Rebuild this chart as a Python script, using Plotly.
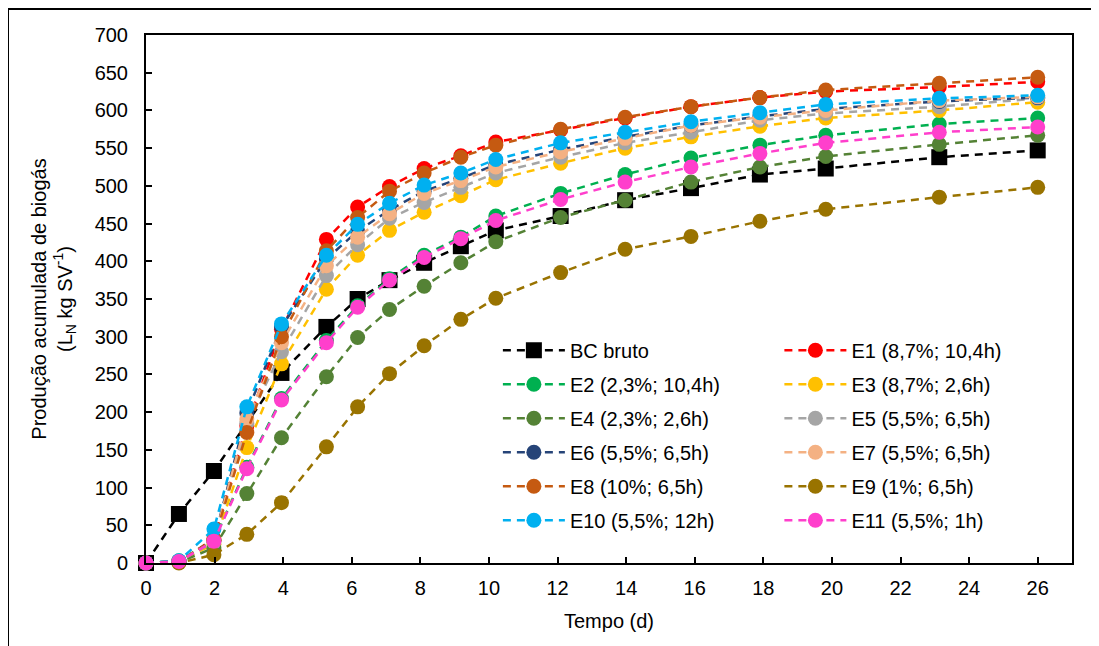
import plotly.graph_objects as go

# Time (days)
tempo = [0, 0.96, 1.98, 2.94, 3.95, 5.26, 6.17, 7.1, 8.11, 9.18, 10.2, 12.09, 13.97, 15.89, 17.9, 19.82, 23.13, 26.0]

bc_bruto = [0, 65, 122, None, 252, 313, 350, 375, 398, 420, 441, 460, 481, 497, 515, 523, 538, 547]
e1 = [0, 2, 32, 182, 310, 429, 472, 499, 523, 540, 558, 574, 590, 605, 617, 625, 631, 638]
e2 = [0, 3, 30, 127, 218, 295, 341, 377, 408, 432, 460, 490, 515, 537, 554, 567, 582, 590]
e3 = [0, 2, 25, 153, 264, 363, 408, 441, 465, 487, 508, 530, 550, 565, 579, 590, 600, 611]
e4 = [0, 1, 20, 92, 166, 247, 299, 336, 367, 398, 426, 458, 481, 505, 525, 539, 555, 567]
e5 = [0, 2, 28, 185, 280, 381, 422, 457, 478, 498, 517, 538, 557, 571, 587, 596, 605, 616]
e6 = [0, 2, 30, 199, 313, 403, 440, 468, 493, 510, 528, 548, 565, 580, 592, 602, 612, 617]
e7 = [0, 2, 30, 191, 292, 394, 432, 463, 490, 507, 525, 545, 563, 580, 591, 600, 613, 618]
e8 = [0, 2, 30, 173, 300, 414, 458, 493, 517, 538, 554, 575, 591, 605, 617, 627, 636, 644]
e9 = [0, 0, 11, 38, 80, 154, 207, 251, 288, 323, 351, 385, 416, 433, 453, 469, 485, 498]
e10 = [0, 3, 45, 207, 317, 408, 449, 477, 501, 517, 535, 557, 571, 585, 597, 608, 616, 620]
e11 = [0, 2, 29, 125, 216, 292, 339, 375, 405, 430, 454, 482, 505, 525, 543, 557, 571, 578]

series = [
    ("BC bruto", bc_bruto, "#000000", "square", "legend"),
    ("E1 (8,7%; 10,4h)", e1, "#FF0000", "circle", "legend2"),
    ("E2 (2,3%; 10,4h)", e2, "#00B050", "circle", "legend"),
    ("E3 (8,7%; 2,6h)", e3, "#FFC000", "circle", "legend2"),
    ("E4 (2,3%; 2,6h)", e4, "#548235", "circle", "legend"),
    ("E5 (5,5%; 6,5h)", e5, "#A5A5A5", "circle", "legend2"),
    ("E6 (5,5%; 6,5h)", e6, "#264478", "circle", "legend"),
    ("E7 (5,5%; 6,5h)", e7, "#F4B183", "circle", "legend2"),
    ("E8 (10%; 6,5h)", e8, "#C55A11", "circle", "legend"),
    ("E9 (1%; 6,5h)", e9, "#997300", "circle", "legend2"),
    ("E10 (5,5%; 12h)", e10, "#00B0F0", "circle", "legend"),
    ("E11 (5,5%; 1h)", e11, "#FF3FCC", "circle", "legend2"),
]

fig = go.Figure()
for i, (name, vals, color, sym, leg) in enumerate(series):
    fig.add_trace(go.Scatter(
        x=tempo, y=vals, name=name, mode="lines+markers",
        connectgaps=True, legend=leg, legendgroup="g%d" % i,
        line=dict(color=color, width=2.5, dash="8px,6px"),
        marker=dict(color=color, symbol=sym, size=16 if sym == "square" else 15,
                    line=dict(width=0)),
        cliponaxis=False,
    ))

font_family = "Liberation Sans, Arial, sans-serif"
legend_common = dict(
    bgcolor="rgba(0,0,0,0)", borderwidth=0, orientation="v",
    font=dict(family=font_family, size=20, color="#000000"),
    tracegroupgap=5, xanchor="left", yanchor="top", itemwidth=62,
)

fig.update_layout(
    width=1099, height=646,
    margin=dict(l=138, r=35, t=27, b=91),
    paper_bgcolor="white", plot_bgcolor="white",
    font=dict(family=font_family, size=20, color="#000000"),
    showlegend=True,
    legend=dict(x=0.380, y=0.44, **legend_common),
    legend2=dict(x=0.684, y=0.44, **legend_common),
    xaxis=dict(
        range=[0, 27], tickmode="array", tickvals=list(range(0, 27, 2)),
        ticks="inside", ticklen=6, tickwidth=1.5, tickcolor="#000000",
        showline=True, linecolor="#000000", linewidth=2, mirror=True,
        showgrid=False, zeroline=False, ticklabelstandoff=6,
        tickfont=dict(size=20),
        title=dict(text="Tempo (d)", font=dict(size=20), standoff=16),
    ),
    yaxis=dict(
        range=[0, 700], dtick=50,
        ticks="inside", ticklen=6, tickwidth=1.5, tickcolor="#000000",
        showline=True, linecolor="#000000", linewidth=2, mirror=True,
        showgrid=False, zeroline=False, ticklabelstandoff=12,
        tickfont=dict(size=20),
        title=dict(text="Produção acumulada de biogás<br>(L<sub>N</sub> kg SV<sup>-1</sup>)",
                   font=dict(size=20), standoff=17),
    ),
    shapes=[dict(type="rect", xref="paper", yref="paper",
                 x0=(0 - 138) / 926, x1=(1110 - 138) / 926,
                 y0=(555 - 700) / 528, y1=(555 - 1) / 528,
                 line=dict(color="#000000", width=2), fillcolor="rgba(0,0,0,0)",
                 layer="below")],
)

fig.write_html("out.html")
